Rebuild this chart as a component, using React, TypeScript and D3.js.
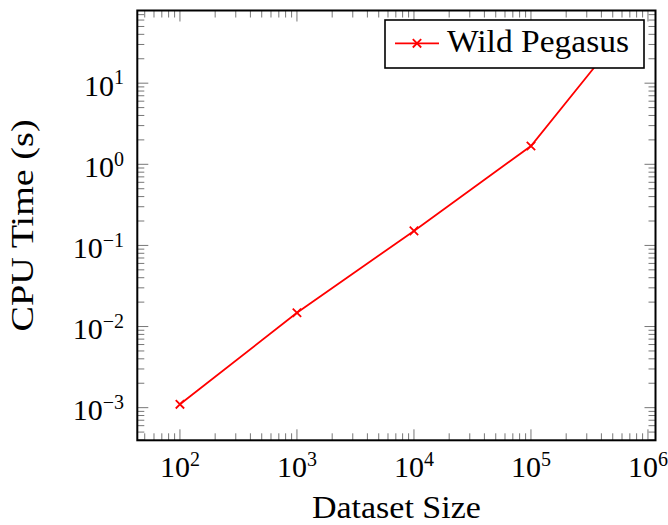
import React from "react";
import * as d3 from "d3";

// Benchmark: CPU time against dataset size (log–log)
const datasetSizes = [1e2, 1e3, 1e4, 1e5, 5e5];
const cpuTimes = [1.1e-3, 0.0148, 0.151, 1.68, 30];
const seriesName = "Wild Pegasus";
const xTickExponents = [2, 3, 4, 5, 6];
const yTickExponents = [-3, -2, -1, 0, 1];
const xLabel = "Dataset Size";
const yLabel = "CPU Time (s)";

const W = 668;
const H = 525;
const plot = { left: 137.3, right: 655.5, top: 10.5, bottom: 440.3 };
const FONT = "Liberation Serif, DejaVu Serif, Times New Roman, serif";
const RED = "#ff0000";

const x = d3.scaleLog().domain([43.2, 1.16e6]).range([plot.left, plot.right]);
const y = d3.scaleLog().domain([3.96e-4, 78.7]).range([plot.bottom, plot.top]);

function minorValues(domain: number[]) {
  const out: number[] = [];
  const lo = Math.floor(Math.log10(domain[0]));
  const hi = Math.ceil(Math.log10(domain[1]));
  for (let e = lo; e <= hi; e++) {
    for (let m = 2; m <= 9; m++) {
      const v = m * Math.pow(10, e);
      if (v > domain[0] && v < domain[1]) out.push(v);
    }
  }
  return out;
}

function Cross({ cx, cy }: { cx: number; cy: number }) {
  const s = 4.2;
  return (
    <path
      d={`M${cx - s},${cy - s}L${cx + s},${cy + s}M${cx - s},${cy + s}L${cx + s},${cy - s}`}
      stroke={RED}
      strokeWidth={1.8}
      fill="none"
    />
  );
}

export default function App() {
  const points = datasetSizes.map((d, i) => [d, cpuTimes[i]] as [number, number]);
  const line = d3
    .line<[number, number]>()
    .x((d) => x(d[0]))
    .y((d) => y(d[1]));

  const majorLen = 11;
  const minorLen = 7;
  const xMinor = minorValues(x.domain());
  const yMinor = minorValues(y.domain());
  const tickColor = "#777";

  return (
    <svg
      width={W}
      height={H}
      style={{ position: "absolute", left: 0, top: 0, background: "#fff", fontFamily: FONT }}
    >
      <defs>
        <clipPath id="plot-clip">
          <rect
            x={plot.left}
            y={plot.top}
            width={plot.right - plot.left}
            height={plot.bottom - plot.top}
          />
        </clipPath>
      </defs>

      {/* ticks on all four sides, pointing inward */}
      <g stroke={tickColor} strokeWidth={1}>
        {xMinor.map((v) => (
          <g key={`xm${v}`}>
            <line x1={x(v)} x2={x(v)} y1={plot.bottom} y2={plot.bottom - minorLen} />
            <line x1={x(v)} x2={x(v)} y1={plot.top} y2={plot.top + minorLen} />
          </g>
        ))}
        {xTickExponents.map((e) => (
          <g key={`xM${e}`}>
            <line x1={x(10 ** e)} x2={x(10 ** e)} y1={plot.bottom} y2={plot.bottom - majorLen} />
            <line x1={x(10 ** e)} x2={x(10 ** e)} y1={plot.top} y2={plot.top + majorLen} />
          </g>
        ))}
        {yMinor.map((v) => (
          <g key={`ym${v}`}>
            <line x1={plot.left} x2={plot.left + minorLen} y1={y(v)} y2={y(v)} />
            <line x1={plot.right} x2={plot.right - minorLen} y1={y(v)} y2={y(v)} />
          </g>
        ))}
        {yTickExponents.map((e) => (
          <g key={`yM${e}`}>
            <line x1={plot.left} x2={plot.left + majorLen} y1={y(10 ** e)} y2={y(10 ** e)} />
            <line x1={plot.right} x2={plot.right - majorLen} y1={y(10 ** e)} y2={y(10 ** e)} />
          </g>
        ))}
      </g>

      {/* data series */}
      <g clipPath="url(#plot-clip)">
        <path d={line(points) ?? ""} fill="none" stroke={RED} strokeWidth={1.8} />
        {points.map((p, i) => (
          <Cross key={i} cx={x(p[0])} cy={y(p[1])} />
        ))}
      </g>

      {/* axis frame */}
      <rect
        x={plot.left}
        y={plot.top}
        width={plot.right - plot.left}
        height={plot.bottom - plot.top}
        fill="none"
        stroke="#000"
        strokeWidth={2}
      />

      {/* x tick labels */}
      {xTickExponents.map((e) => (
        <text key={`xl${e}`} x={x(10 ** e)} y={477} textAnchor="middle" fontSize={30} fill="#000">
          10
          <tspan fontSize={20} dy={-11}>
            {e < 0 ? `\u2212${-e}` : `${e}`}
          </tspan>
        </text>
      ))}

      {/* y tick labels */}
      {yTickExponents.map((e) => (
        <text key={`yl${e}`} x={124} y={y(10 ** e) + 12.8} textAnchor="end" fontSize={30} fill="#000">
          10
          <tspan fontSize={20} dy={-11.5}>
            {e < 0 ? `\u2212${-e}` : `${e}`}
          </tspan>
        </text>
      ))}

      {/* axis titles */}
      <text
        x={(plot.left + plot.right) / 2}
        y={518}
        textAnchor="middle"
        fontSize={31}
        textLength={169}
        lengthAdjust="spacingAndGlyphs"
        fill="#000"
      >
        {xLabel}
      </text>
      <text
        transform={`translate(33,${(plot.top + plot.bottom) / 2}) rotate(-90)`}
        textAnchor="middle"
        fontSize={31}
        textLength={212}
        lengthAdjust="spacingAndGlyphs"
        fill="#000"
      >
        {yLabel}
      </text>

      {/* legend */}
      <g>
        <rect x={385} y={20} width={259} height={48} fill="#fff" stroke="#000" strokeWidth={1.6} />
        <line x1={395} x2={439} y1={43.3} y2={43.3} stroke={RED} strokeWidth={1.8} />
        <Cross cx={417} cy={43.3} />
        <text
          x={447}
          y={52}
          fontSize={31}
          textLength={182}
          lengthAdjust="spacingAndGlyphs"
          fill="#000"
        >
          {seriesName}
        </text>
      </g>
    </svg>
  );
}
